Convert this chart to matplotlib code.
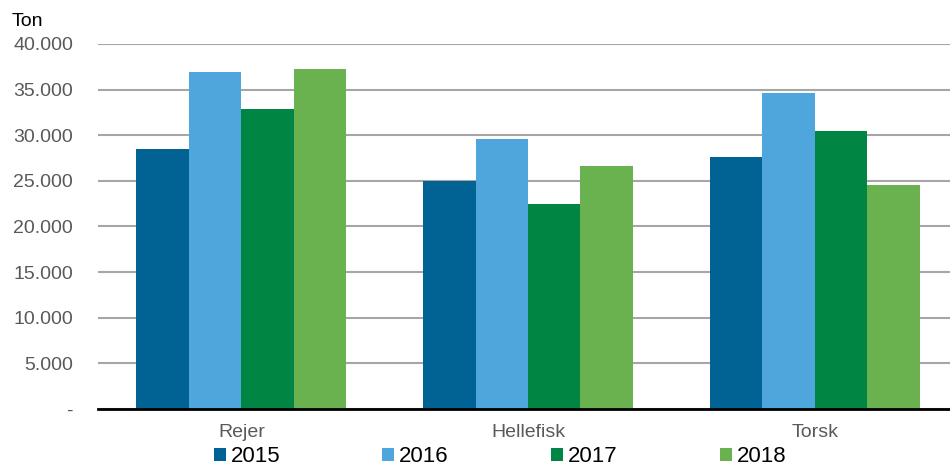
import numpy as np
import matplotlib
matplotlib.use("Agg")
import matplotlib.pyplot as plt
from matplotlib.ticker import FuncFormatter
from matplotlib.patches import Patch

plt.rcParams['font.family'] = ['Liberation Sans', 'DejaVu Sans']

categories = ["Rejer", "Hellefisk", "Torsk"]
years = ["2015", "2016", "2017", "2018"]
v2015 = [28500, 25000, 27600]
v2016 = [36900, 29600, 34600]
v2017 = [32900, 22500, 30500]
v2018 = [37300, 26600, 24600]
colors = ["#006394", "#4EA6DC", "#008542", "#6AB24F"]

series = [v2015, v2016, v2017, v2018]

fig = plt.figure(figsize=(9.5, 4.7), dpi=100)
ax = fig.add_axes([98/950, 1 - 409/470, 852/950, 365/470])

x = np.arange(len(categories))
w = 0.183
for i, (vals, col) in enumerate(zip(series, colors)):
    ax.bar(x + (i - 1.5) * w, vals, width=w, color=col, zorder=3)

ax.set_ylim(0, 40000)
ax.set_xlim(-0.5, 2.472)
ax.set_yticks(np.arange(0, 40001, 5000))

def fmt(v, pos):
    if v == 0:
        return "-"
    return f"{int(v):,}".replace(",", ".")

ax.yaxis.set_major_formatter(FuncFormatter(fmt))
ax.grid(axis='y', color='#A6A6A6', linewidth=1.5, zorder=0)
for s in ["top", "right", "left"]:
    ax.spines[s].set_visible(False)
ax.spines["bottom"].set_color("black")
ax.spines["bottom"].set_linewidth(2)
ax.spines["bottom"].set_zorder(4)
ax.tick_params(axis='y', length=0, pad=18, labelsize=14, labelcolor='#595959')
ax.tick_params(axis='x', length=0, pad=11, labelsize=14, labelcolor='#595959')
ax.set_xticks(x)
ax.set_xticklabels(categories)

fig.text(12/950, 1 - 22/470, "Ton", fontsize=14, color='black', va='center', ha='left')

handles = [Patch(facecolor=c, edgecolor='none') for c in colors]
fig.legend(handles, years, loc='center', bbox_to_anchor=(500/950, 1 - 457/470),
           ncol=4, frameon=False, fontsize=16, handlelength=0.54, handleheight=0.54,
           handletextpad=0.22, columnspacing=4.6, borderaxespad=0, borderpad=0)

fig.savefig("out.png", dpi=100)
